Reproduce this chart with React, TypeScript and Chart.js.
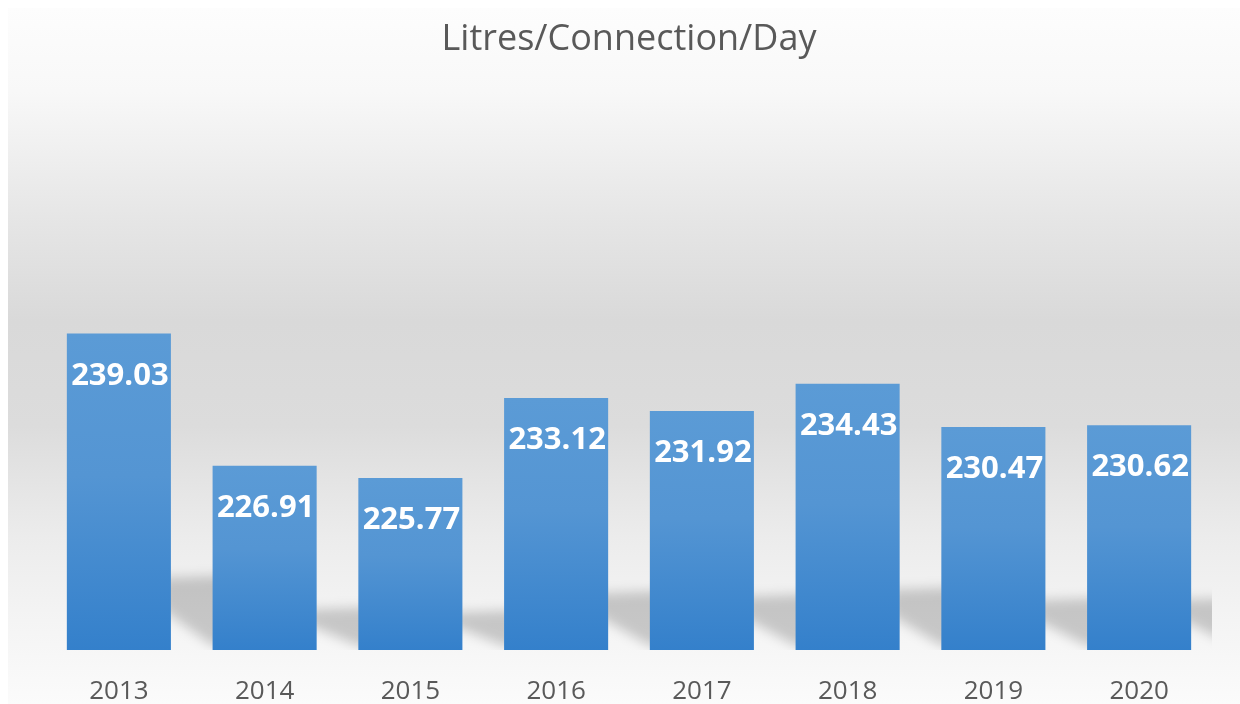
import React, { useEffect, useRef } from "react";
import { Chart, registerables } from "chart.js";

Chart.register(...registerables);

const TITLE = "Litres/Connection/Day";
const YEARS = ["2013", "2014", "2015", "2016", "2017", "2018", "2019", "2020"];
const LITRES = [239.03, 226.91, 225.77, 233.12, 231.92, 234.43, 230.47, 230.62];
const Y_MIN = 210;
const Y_MAX = 250;

const backgroundPlugin = {
  id: "wallBackground",
  beforeDraw(chart: any) {
    const { ctx, width, height } = chart;
    ctx.save();
    ctx.fillStyle = "#ffffff";
    ctx.fillRect(0, 0, width, height);
    const g = ctx.createLinearGradient(0, 8, 0, height);
    g.addColorStop(0, "#fdfdfd");
    g.addColorStop(0.12, "#f8f8f8");
    g.addColorStop(0.3, "#e6e6e6");
    g.addColorStop(0.45, "#d9d9d9");
    g.addColorStop(0.6, "#dcdcdc");
    g.addColorStop(0.76, "#ececec");
    g.addColorStop(0.88, "#f4f4f4");
    g.addColorStop(1, "#fbfbfb");
    ctx.fillStyle = g;
    ctx.fillRect(8, 8, width - 8, height - 8);
    ctx.restore();
  },
  beforeDatasetsDraw(chart: any) {
    const { ctx, chartArea } = chart;
    const meta = chart.getDatasetMeta(0);
    ctx.save();
    ctx.beginPath();
    ctx.rect(chartArea.left, chartArea.top, chartArea.right - chartArea.left, chartArea.bottom - chartArea.top);
    ctx.clip();
    ctx.filter = "blur(6px)";
    ctx.fillStyle = "rgba(0,0,0,0.19)";
    const base = chartArea.bottom;
    meta.data.forEach((el: any) => {
      const xR = el.x + el.width / 2;
      const h = base - el.y;
      const ts = base - 0.24 * h + 4;
      const mid = (ts + base) / 2 - 6;
      ctx.beginPath();
      ctx.moveTo(xR - 10, ts);
      ctx.lineTo(xR + 70, ts - 3);
      ctx.lineTo(xR + 70, base - 4);
      ctx.lineTo(xR + 42, base - 4);
      ctx.lineTo(xR - 10, mid);
      ctx.closePath();
      ctx.fill();
    });
    ctx.restore();
  },
  afterDatasetsDraw(chart: any) {
    const { ctx } = chart;
    const meta = chart.getDatasetMeta(0);
    const values = chart.data.datasets[0].data as number[];
    ctx.save();
    ctx.fillStyle = "#ffffff";
    ctx.font = "bold 31px 'Open Sans', sans-serif";
    ctx.textAlign = "center";
    ctx.textBaseline = "alphabetic";
    meta.data.forEach((el: any, i: number) => {
      ctx.fillText(values[i].toFixed(2), el.x + 1, el.y + 51);
    });
    ctx.restore();
  },
};

export default function App() {
  const ref = useRef<HTMLCanvasElement | null>(null);

  useEffect(() => {
    if (!ref.current) return;
    const chart = new Chart(ref.current, {
      type: "bar",
      data: {
        labels: YEARS,
        datasets: [
          {
            label: TITLE,
            data: LITRES,
            barPercentage: 0.714,
            categoryPercentage: 1,
            borderWidth: 0,
            backgroundColor: (c: any) => {
              const chart = c.chart;
              const area = chart.chartArea;
              if (!area || c.type !== "data" || !chart.scales.y) return "#5b9bd5";
              const top = chart.scales.y.getPixelForValue(c.raw);
              const g = chart.ctx.createLinearGradient(0, top, 0, area.bottom);
              g.addColorStop(0, "#5b9bd6");
              g.addColorStop(0.45, "#5495d3");
              g.addColorStop(1, "#3480cb");
              return g;
            },
          },
        ],
      },
      options: {
        animation: false,
        responsive: true,
        maintainAspectRatio: false,
        layout: { padding: { left: 46, right: 28, top: 0, bottom: 0 } },
        plugins: {
          legend: { display: false },
          tooltip: { enabled: false },
          title: {
            display: true,
            text: TITLE,
            color: "#595959",
            font: { family: "'Open Sans', sans-serif", size: 36, weight: "normal" },
            padding: { top: 18, bottom: 152.8 },
          },
        },
        scales: {
          x: {
            grid: { display: false, drawTicks: false },
            border: { display: false },
            ticks: {
              color: "#595959",
              font: { family: "'Open Sans', sans-serif", size: 26 },
              padding: 26,
            },
            afterFit: (scale: any) => {
              scale.height = 54;
            },
          },
          y: {
            display: false,
            min: Y_MIN,
            max: Y_MAX,
          },
        },
      },
      plugins: [backgroundPlugin],
    });
    return () => chart.destroy();
  }, []);

  return (
    <div style={{ position: "fixed", left: 0, top: 0, width: 1240, height: 704 }}>
      <canvas ref={ref} />
    </div>
  );
}
